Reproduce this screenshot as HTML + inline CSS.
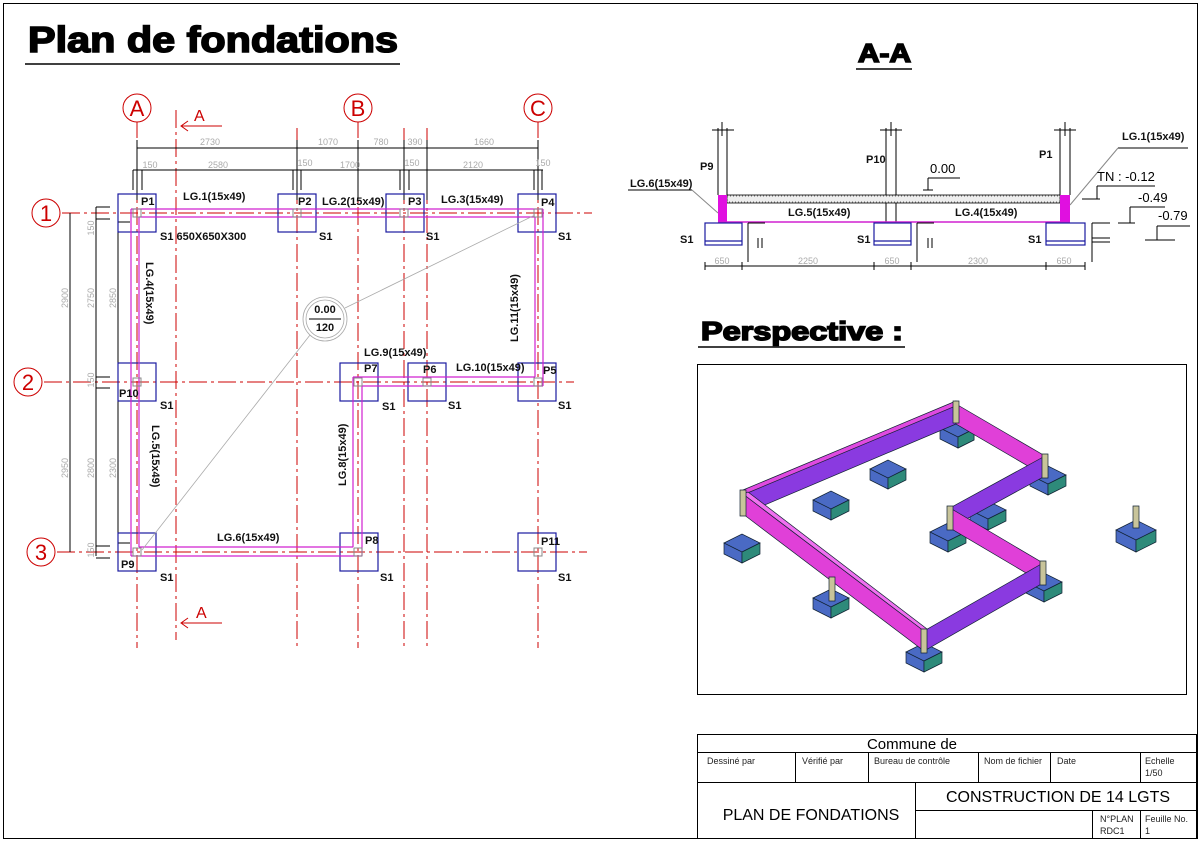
<!DOCTYPE html>
<html><head><meta charset="utf-8"><style>
html,body{margin:0;padding:0;background:#fff;}
svg{display:block;font-family:"Liberation Sans",sans-serif;}
.g{stroke:#c00;stroke-width:1;stroke-dasharray:18 4 3 4;fill:none}
.ft{fill:none;stroke:#1a1aa0;stroke-width:1.2}
.bm{fill:none;stroke:#d020d0;stroke-width:1.2}
.lb{font-size:11px;font-weight:bold;fill:#111}
.dm{font-size:9px;fill:#aaa}
.k{stroke:#000;stroke-width:1;fill:none}
.col{fill:none;stroke:#888;stroke-width:1}
.tb{font-size:9px;fill:#222}
.big{font-weight:bold;fill:#000;stroke:#000;stroke-width:1.6}
</style></head><body>
<svg width="1202" height="843" viewBox="0 0 1202 843">
<rect x="3.5" y="3.5" width="1194" height="835" fill="none" stroke="#000"/>

<!-- Title -->
<text x="28" y="52" font-size="36" class="big" textLength="370" lengthAdjust="spacingAndGlyphs">Plan de fondations</text>
<line x1="25" y1="64" x2="400" y2="64" stroke="#000" stroke-width="1.5"/>

<!-- grid lines vertical -->
<g class="g">
<line x1="137" y1="120" x2="137" y2="648"/>
<line x1="176" y1="110" x2="176" y2="640"/>
<line x1="297" y1="128" x2="297" y2="648"/>
<line x1="358" y1="120" x2="358" y2="648"/>
<line x1="404" y1="128" x2="404" y2="648"/>
<line x1="427" y1="128" x2="427" y2="648"/>
<line x1="538" y1="120" x2="538" y2="648"/>
<line x1="62" y1="213" x2="592" y2="213"/>
<line x1="44" y1="382" x2="574" y2="382"/>
<line x1="57" y1="552" x2="587" y2="552"/>
</g>
<g fill="#fff" stroke="#c00" stroke-width="1">
<circle cx="137" cy="108" r="14"/><circle cx="358" cy="108" r="14"/><circle cx="538" cy="108" r="14"/>
<circle cx="46" cy="213" r="14"/><circle cx="28" cy="382" r="14"/><circle cx="41" cy="552" r="14"/>
</g>
<g fill="#c00" font-size="22" text-anchor="middle">
<text x="137" y="116">A</text><text x="358" y="116">B</text><text x="538" y="116">C</text>
<text x="46" y="221">1</text><text x="28" y="390">2</text><text x="41" y="560">3</text>
</g>
<!-- section marks -->
<g stroke="#c00" fill="none">
<line x1="182" y1="126" x2="222" y2="126"/><polyline points="188,121 181,126 188,131"/>
<line x1="182" y1="623" x2="222" y2="623"/><polyline points="188,618 181,623 188,628"/>
</g>
<text x="194" y="121" fill="#c00" font-size="16">A</text>
<text x="196" y="618" fill="#c00" font-size="16">A</text>

<!-- dimensions -->
<g class="k">
<line x1="137" y1="148" x2="538" y2="148"/>
<line x1="133" y1="170" x2="543" y2="170"/>
<line x1="137" y1="140" x2="137" y2="200"/><line x1="297" y1="140" x2="297" y2="200"/>
<line x1="358" y1="140" x2="358" y2="200"/><line x1="404" y1="140" x2="404" y2="200"/>
<line x1="427" y1="140" x2="427" y2="200"/><line x1="538" y1="140" x2="538" y2="200"/>
<line x1="133" y1="170" x2="133" y2="190"/><line x1="142" y1="170" x2="142" y2="190"/>
<line x1="293" y1="170" x2="293" y2="190"/><line x1="301" y1="170" x2="301" y2="190"/>
<line x1="400" y1="170" x2="400" y2="190"/><line x1="409" y1="170" x2="409" y2="190"/>
<line x1="534" y1="170" x2="534" y2="190"/><line x1="542" y1="170" x2="542" y2="190"/>
<line x1="70" y1="213" x2="70" y2="552"/>
<line x1="96" y1="207" x2="96" y2="556"/>
<line x1="118" y1="222" x2="118" y2="543"/>
<line x1="96" y1="207" x2="110" y2="207"/><line x1="96" y1="219" x2="110" y2="219"/>
<line x1="96" y1="377" x2="110" y2="377"/><line x1="96" y1="388" x2="110" y2="388"/>
<line x1="96" y1="546" x2="110" y2="546"/><line x1="96" y1="558" x2="110" y2="558"/>
<line x1="118" y1="222" x2="130" y2="222"/><line x1="118" y1="543" x2="130" y2="543"/>
</g>
<g class="dm" text-anchor="middle">
<text x="210" y="145">2730</text><text x="328" y="145">1070</text><text x="381" y="145">780</text><text x="415" y="145">390</text><text x="484" y="145">1660</text>
<text x="150" y="168">150</text><text x="218" y="168">2580</text><text x="305" y="166">150</text><text x="350" y="168">1700</text><text x="412" y="166">150</text><text x="473" y="168">2120</text><text x="543" y="166">150</text>
<text transform="translate(68,298) rotate(-90)">2900</text>
<text transform="translate(94,298) rotate(-90)">2750</text>
<text transform="translate(116,298) rotate(-90)">2850</text>
<text transform="translate(68,468) rotate(-90)">2950</text>
<text transform="translate(94,468) rotate(-90)">2800</text>
<text transform="translate(116,468) rotate(-90)">2300</text>
<text transform="translate(94,228) rotate(-90)">150</text>
<text transform="translate(94,380) rotate(-90)">150</text>
<text transform="translate(94,550) rotate(-90)">150</text>
</g>

<!-- footings -->
<g class="ft">
<rect x="118" y="194" width="38" height="38"/><rect x="278" y="194" width="38" height="38"/>
<rect x="386" y="194" width="38" height="38"/><rect x="518" y="194" width="38" height="38"/>
<rect x="118" y="363" width="38" height="38"/><rect x="340" y="363" width="38" height="38"/>
<rect x="408" y="363" width="38" height="38"/><rect x="518" y="363" width="38" height="38"/>
<rect x="118" y="533" width="38" height="38"/><rect x="340" y="533" width="38" height="38"/>
<rect x="518" y="533" width="38" height="38"/>
</g>
<!-- beams -->
<g class="bm">
<line x1="131" y1="209" x2="543" y2="209"/><line x1="139" y1="217" x2="535" y2="217"/>
<line x1="131" y1="209" x2="131" y2="556"/><line x1="139" y1="217" x2="139" y2="547"/>
<line x1="131" y1="556" x2="362" y2="556"/><line x1="139" y1="547" x2="353" y2="547"/>
<line x1="353" y1="547" x2="353" y2="377"/><line x1="362" y1="556" x2="362" y2="386"/>
<line x1="353" y1="377" x2="535" y2="377"/><line x1="362" y1="386" x2="543" y2="386"/>
<line x1="543" y1="209" x2="543" y2="386"/><line x1="535" y1="217" x2="535" y2="377"/>
</g>
<g class="col">
<rect x="133" y="209" width="8" height="8"/><rect x="293" y="209" width="8" height="8"/><rect x="400" y="209" width="8" height="8"/><rect x="534" y="209" width="8" height="8"/>
<rect x="133" y="378" width="8" height="8"/><rect x="354" y="378" width="8" height="8"/><rect x="423" y="378" width="8" height="8"/><rect x="534" y="378" width="8" height="8"/>
<rect x="133" y="548" width="8" height="8"/><rect x="354" y="548" width="8" height="8"/><rect x="534" y="548" width="8" height="8"/>
</g>
<!-- callout -->
<g stroke="#aaa" fill="none" stroke-width="0.8">
<line x1="535" y1="215" x2="345" y2="308"/>
<line x1="310" y1="335" x2="142" y2="550"/>
<circle cx="325" cy="319" r="22"/><circle cx="325" cy="319" r="19"/>
</g>
<line x1="309" y1="319" x2="341" y2="319" stroke="#000"/>
<text x="325" y="313" class="lb" text-anchor="middle">0.00</text>
<text x="325" y="331" class="lb" text-anchor="middle">120</text>

<!-- labels -->
<g class="lb">
<text x="141" y="205">P1</text><text x="298" y="205">P2</text><text x="408" y="205">P3</text><text x="541" y="206">P4</text>
<text x="183" y="200">LG.1(15x49)</text><text x="322" y="205">LG.2(15x49)</text><text x="441" y="203">LG.3(15x49)</text>
<text x="160" y="240">S1 650X650X300</text><text x="319" y="240">S1</text><text x="426" y="240">S1</text><text x="558" y="240">S1</text>
<text x="364" y="356">LG.9(15x49)</text><text x="456" y="371">LG.10(15x49)</text>
<text x="364" y="372">P7</text><text x="423" y="373">P6</text><text x="543" y="374">P5</text>
<text x="119" y="397">P10</text>
<text x="160" y="409">S1</text><text x="382" y="410">S1</text><text x="448" y="409">S1</text><text x="558" y="409">S1</text>
<text x="217" y="541">LG.6(15x49)</text>
<text x="365" y="544">P8</text><text x="541" y="545">P11</text><text x="121" y="568">P9</text>
<text x="160" y="581">S1</text><text x="380" y="581">S1</text><text x="558" y="581">S1</text>
<text transform="translate(146,262) rotate(90)">LG.4(15x49)</text>
<text transform="translate(152,425) rotate(90)">LG.5(15x49)</text>
<text transform="translate(346,486) rotate(-90)">LG.8(15x49)</text>
<text transform="translate(518,342) rotate(-90)">LG.11(15x49)</text>
</g>

<!-- A-A -->
<text x="858" y="62" font-size="26" class="big" stroke-width="0.8" textLength="53" lengthAdjust="spacingAndGlyphs">A-A</text>
<line x1="856" y1="69" x2="912" y2="69" stroke="#000" stroke-width="1.5"/>
<g class="k" stroke="#555">
<line x1="718" y1="128" x2="718" y2="195"/><line x1="727" y1="128" x2="727" y2="195"/>
<line x1="886" y1="128" x2="886" y2="222"/><line x1="896" y1="128" x2="896" y2="222"/>
<line x1="1060" y1="128" x2="1060" y2="195"/><line x1="1070" y1="128" x2="1070" y2="195"/>
<line x1="712" y1="130" x2="734" y2="130"/><line x1="880" y1="130" x2="902" y2="130"/><line x1="1054" y1="130" x2="1076" y2="130"/>
<line x1="722" y1="122" x2="722" y2="136"/><line x1="891" y1="122" x2="891" y2="136"/><line x1="1065" y1="122" x2="1065" y2="136"/>
</g>
<rect x="727" y="195" width="333" height="8" fill="#eee" stroke="#000" stroke-width="0.8"/>
<rect x="727" y="196" width="333" height="6" fill="none" stroke="#666" stroke-width="1" stroke-dasharray="1 2"/>
<rect x="718" y="195" width="9" height="27" fill="#e010e0"/>
<rect x="1060" y="195" width="10" height="27" fill="#e010e0"/>
<line x1="718" y1="222" x2="1070" y2="222" stroke="#d020d0" stroke-width="1.5"/>
<g fill="none" stroke="#1a1aa0" stroke-width="1.2">
<rect x="705" y="223" width="37" height="22"/><line x1="705" y1="241" x2="742" y2="241"/>
<rect x="874" y="223" width="37" height="22"/><line x1="874" y1="241" x2="911" y2="241"/>
<rect x="1046" y="223" width="39" height="22"/><line x1="1046" y1="241" x2="1085" y2="241"/>
</g>
<g class="k">
<line x1="705" y1="266" x2="1085" y2="266"/>
<line x1="705" y1="262" x2="705" y2="270"/><line x1="742" y1="262" x2="742" y2="270"/><line x1="874" y1="262" x2="874" y2="270"/><line x1="911" y1="262" x2="911" y2="270"/><line x1="1046" y1="262" x2="1046" y2="270"/><line x1="1085" y1="262" x2="1085" y2="270"/>
<line x1="748" y1="223" x2="765" y2="223"/><line x1="748" y1="223" x2="748" y2="262"/><line x1="758" y1="238" x2="758" y2="248"/><line x1="762" y1="238" x2="762" y2="248"/>
<line x1="917" y1="223" x2="934" y2="223"/><line x1="917" y1="223" x2="917" y2="262"/><line x1="928" y1="238" x2="928" y2="248"/><line x1="932" y1="238" x2="932" y2="248"/>
<line x1="1092" y1="223" x2="1110" y2="223"/><line x1="1092" y1="223" x2="1092" y2="262"/><line x1="1092" y1="238" x2="1110" y2="238"/><line x1="1092" y1="242" x2="1110" y2="242"/>
<line x1="928" y1="190" x2="928" y2="178"/><line x1="928" y1="178" x2="960" y2="178"/><line x1="923" y1="190" x2="933" y2="190"/>
<line x1="1118" y1="148" x2="1188" y2="148"/><line x1="1118" y1="148" x2="1070" y2="205" stroke="#888"/>
<line x1="628" y1="190" x2="692" y2="190"/><line x1="692" y1="190" x2="718" y2="213" stroke="#888"/>
<line x1="1082" y1="199" x2="1100" y2="199"/><line x1="1097" y1="199" x2="1097" y2="186"/><line x1="1097" y1="186" x2="1155" y2="186"/>
<line x1="1118" y1="223" x2="1135" y2="223"/><line x1="1130" y1="223" x2="1130" y2="207"/><line x1="1130" y1="207" x2="1165" y2="207"/>
<line x1="1145" y1="240" x2="1175" y2="240"/><line x1="1157" y1="240" x2="1157" y2="226"/><line x1="1157" y1="226" x2="1190" y2="226"/>
</g>
<g class="dm" text-anchor="middle"><text x="722" y="264">650</text><text x="808" y="264">2250</text><text x="892" y="264">650</text><text x="978" y="264">2300</text><text x="1064" y="264">650</text></g>
<g class="lb">
<text x="700" y="170">P9</text><text x="866" y="163">P10</text><text x="1039" y="158">P1</text>
<text x="1122" y="140">LG.1(15x49)</text><text x="630" y="187">LG.6(15x49)</text>
<text x="788" y="216">LG.5(15x49)</text><text x="955" y="216">LG.4(15x49)</text>
<text x="680" y="243">S1</text><text x="857" y="243">S1</text><text x="1028" y="243">S1</text>
</g>
<g font-size="13" fill="#000"><text x="930" y="173">0.00</text><text x="1097" y="181">TN : -0.12</text><text x="1138" y="202">-0.49</text><text x="1158" y="220">-0.79</text></g>

<!-- Perspective -->
<text x="701" y="340" font-size="26" class="big" stroke-width="1.1" textLength="202" lengthAdjust="spacingAndGlyphs">Perspective :</text>
<line x1="698" y1="347" x2="905" y2="347" stroke="#000" stroke-width="1.5"/>
<rect x="697.5" y="364.5" width="489" height="330" fill="none" stroke="#000"/>
<g stroke="#123" stroke-width="0.7">
<g>
<path d="M940,428 l16,-8 l18,9 l-16,8z M940,428 v11 l18,9 v-11z M958,437 v11 l16,-8 v-11z" fill="#4a6ac4"/>
<path d="M958,437 v11 l16,-8 v-11z" fill="#2e8a7a"/>
<path d="M870,469 l18,-9 l18,9 l-18,9z M870,469 v11 l18,9 v-11z" fill="#4a6ac4"/><path d="M888,478 v11 l18,-9 v-11z" fill="#2e8a7a"/>
<path d="M813,500 l18,-9 l18,9 l-18,9z M813,500 v11 l18,9 v-11z" fill="#4a6ac4"/><path d="M831,509 v11 l18,-9 v-11z" fill="#2e8a7a"/>
<path d="M1030,475 l18,-9 l18,9 l-18,9z M1030,475 v11 l18,9 v-11z" fill="#4a6ac4"/><path d="M1048,484 v11 l18,-9 v-11z" fill="#2e8a7a"/>
<path d="M970,510 l18,-9 l18,9 l-18,9z M970,510 v11 l18,9 v-11z" fill="#4a6ac4"/><path d="M988,519 v11 l18,-9 v-11z" fill="#2e8a7a"/>
<path d="M930,532 l18,-9 l18,9 l-18,9z M930,532 v11 l18,9 v-11z" fill="#4a6ac4"/><path d="M948,541 v11 l18,-9 v-11z" fill="#2e8a7a"/>
<path d="M1026,582 l18,-9 l18,9 l-18,9z M1026,582 v11 l18,9 v-11z" fill="#4a6ac4"/><path d="M1044,591 v11 l18,-9 v-11z" fill="#2e8a7a"/>
<path d="M813,598 l18,-9 l18,9 l-18,9z M813,598 v11 l18,9 v-11z" fill="#4a6ac4"/><path d="M831,607 v11 l18,-9 v-11z" fill="#2e8a7a"/>
<path d="M724,543 l18,-9 l18,9 l-18,9z M724,543 v11 l18,9 v-11z" fill="#4a6ac4"/><path d="M742,552 v11 l18,-9 v-11z" fill="#2e8a7a"/>
<path d="M906,652 l18,-9 l18,9 l-18,9z M906,652 v11 l18,9 v-11z" fill="#4a6ac4"/><path d="M924,661 v11 l18,-9 v-11z" fill="#2e8a7a"/>
<path d="M1116,530 l20,-10 l20,10 l-20,10z M1116,530 v12 l20,10 v-12z" fill="#4a6ac4"/><path d="M1136,540 v12 l20,-10 v-12z" fill="#2e8a7a"/>
</g>
<path d="M743,492 L956,404 L956,424 L748,512 Z" fill="#8a3ae0"/>
<path d="M743,490 L956,401 L958,405 L745,494Z" fill="#e04ae0"/>
<path d="M956,404 L1045,456 L1045,476 L956,424 Z" fill="#e040d8"/>
<path d="M1045,456 L950,508 L950,528 L1045,476 Z" fill="#8a3ae0"/>
<path d="M950,508 L1043,563 L1043,583 L950,528 Z" fill="#e040d8"/>
<path d="M1043,563 L924,631 L924,651 L1043,583 Z" fill="#8a3ae0"/>
<path d="M743,494 L924,631 L924,651 L743,514 Z" fill="#e040d8"/>
<path d="M743,494 L748,492 L927,629 L924,631Z" fill="#f070f0"/>
<path d="M740,490 h6 v26 h-6z" fill="#c8c49a"/>
<path d="M953,401 h6 v22 h-6z" fill="#c8c49a"/>
<path d="M1042,454 h6 v24 h-6z" fill="#c8c49a"/>
<path d="M947,506 h6 v24 h-6z" fill="#c8c49a"/>
<path d="M1040,561 h6 v24 h-6z" fill="#c8c49a"/>
<path d="M921,629 h6 v24 h-6z" fill="#c8c49a"/>
<path d="M829,577 h6 v24 h-6z" fill="#c8c49a"/>
<path d="M1133,506 h6 v22 h-6z" fill="#c8c49a"/>
</g>

<!-- title block -->
<g fill="none" stroke="#000">
<rect x="697.5" y="734.5" width="499" height="104"/>
<line x1="697" y1="752.5" x2="1197" y2="752.5"/>
<line x1="697" y1="782.5" x2="1197" y2="782.5"/>
<line x1="795.5" y1="752" x2="795.5" y2="782"/><line x1="868.5" y1="752" x2="868.5" y2="782"/>
<line x1="978.5" y1="752" x2="978.5" y2="782"/><line x1="1050.5" y1="752" x2="1050.5" y2="782"/><line x1="1140.5" y1="752" x2="1140.5" y2="782"/>
<line x1="915.5" y1="782" x2="915.5" y2="838"/>
<line x1="915" y1="810.5" x2="1197" y2="810.5"/>
<line x1="1092.5" y1="810" x2="1092.5" y2="838"/><line x1="1140.5" y1="810" x2="1140.5" y2="838"/>
</g>
<text x="912" y="749" font-size="15" text-anchor="middle">Commune de</text>
<g class="tb">
<text x="707" y="764">Dessiné par</text><text x="802" y="764">Vérifié par</text><text x="874" y="764">Bureau de contrôle</text>
<text x="984" y="764">Nom de fichier</text><text x="1057" y="764">Date</text><text x="1145" y="764">Echelle</text><text x="1145" y="776">1/50</text>
<text x="1100" y="822">N°PLAN</text><text x="1100" y="834">RDC1</text><text x="1145" y="822">Feuille No.</text><text x="1145" y="834">1</text>
</g>
<text x="811" y="820" font-size="16" text-anchor="middle">PLAN DE FONDATIONS</text>
<text x="1058" y="802" font-size="16" text-anchor="middle">CONSTRUCTION DE 14 LGTS</text>
</svg>
</body></html>
